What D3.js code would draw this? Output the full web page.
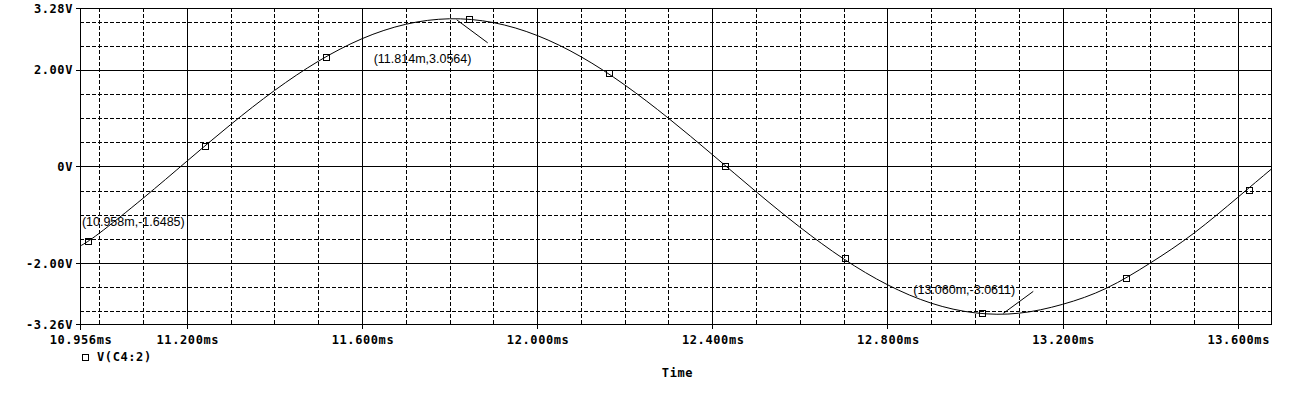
<!DOCTYPE html>
<html>
<head>
<meta charset="utf-8">
<script src="https://cdn.jsdelivr.net/npm/d3@7"></script>
<style>
  body { margin: 0; background: #fff; }
  svg { display: block; }
  .tick-label { font-family: "DejaVu Sans Mono", monospace; font-weight: bold; font-size: 12px; letter-spacing: 0.6px; fill: #000; }
  .note { font-family: "Liberation Sans", Arial, sans-serif; font-size: 12.5px; fill: #000; }
</style>
</head>
<body>
<svg id="vis"></svg>
<script>
// V(C4:2) trace (time in ms, volts)
const timeMs = [10.956, 11.0, 11.1, 11.2, 11.3, 11.4, 11.5, 11.6, 11.7, 11.8, 11.9, 12.0, 12.1, 12.2,
                12.3, 12.4, 12.5, 12.6, 12.7, 12.8, 12.9, 13.0, 13.1, 13.2, 13.3, 13.4, 13.5, 13.6, 13.676]
const volts = [-1.649, -1.382, -0.658, 0.108, 0.867, 1.571, 2.176, 2.644, 2.943, 3.057, 2.978, 2.711, 2.272, 1.688,
               0.998, 0.247, -0.521, -1.255, -1.912, -2.447, -2.829, -3.029, -3.037, -2.853, -2.52, -2.0, -1.38, -0.64, -0.06]

// symbol markers drawn on the trace
const markerTime = [10.974, 11.2415, 11.518, 11.8445, 12.163, 12.429, 12.702, 13.017, 13.345, 13.625]
const markerVolts = [-1.542, 0.427, 2.266, 3.052, 1.93, 0.01, -1.90, -3.038, -2.308, -0.48]

// cursor labels
const noteTime = [10.958, 11.814, 13.060]
const noteVolts = [-1.6485, 3.0564, -3.0611]
const noteText = ["(10.958m,-1.6485)", "(11.814m,3.0564)", "(13.060m,-3.0611)"]

// axes
const xTickValues = [10.956, 11.2, 11.6, 12.0, 12.4, 12.8, 13.2, 13.6]
const xTickLabels = ["10.956ms", "11.200ms", "11.600ms", "12.000ms", "12.400ms", "12.800ms", "13.200ms", "13.600ms"]
const yTickValues = [3.28, 2, 0, -2, -3.26]
const yTickLabels = ["3.28V", "2.00V", "0V", "-2.00V", "-3.26V"]
const yMinor = [3.0, 2.5, 1.5, 1.0, 0.5, -0.5, -1.0, -1.5, -2.5, -3.0]
const seriesName = "V(C4:2)"
const xTitle = "Time"

const width = 1301, height = 399
const margin = { top: 8, right: 30, bottom: 75, left: 80 }

const svg = d3.select("#vis").attr("width", width).attr("height", height)

const x = d3.scaleLinear().domain([10.956, 13.676]).range([margin.left, width - margin.right])
const y = d3.scaleLinear().domain([-3.26, 3.28]).range([height - margin.bottom, margin.top])

const [x0, x1] = x.range()
const [yb, yt] = y.range()

const grid = svg.append("g").attr("shape-rendering", "crispEdges").attr("stroke", "#000").attr("stroke-width", 1)

// dashed minor grid, every 0.1ms / 0.5V
const xMinor = d3.range(110, 137).map(d => d / 10).filter(d => Math.round(d * 10) % 4 !== 0)
grid.selectAll(".vminor").data(xMinor).join("line")
    .attr("x1", d => Math.round(x(d)) + 0.5).attr("x2", d => Math.round(x(d)) + 0.5)
    .attr("y1", yt).attr("y2", yb)
    .attr("stroke-dasharray", "4,2")
grid.selectAll(".hminor").data(yMinor).join("line")
    .attr("x1", x0).attr("x2", x1)
    .attr("y1", d => Math.round(y(d)) + 0.5).attr("y2", d => Math.round(y(d)) + 0.5)
    .attr("stroke-dasharray", "4,2")

// small inward ticks on the time axis
grid.selectAll(".xminortick").data(xMinor).join("line")
    .attr("x1", d => Math.round(x(d)) + 0.5).attr("x2", d => Math.round(x(d)) + 0.5)
    .attr("y1", yb - 3).attr("y2", yb)

// solid major grid
grid.selectAll(".vmajor").data(xTickValues.slice(1)).join("line")
    .attr("x1", d => Math.round(x(d)) + 0.5).attr("x2", d => Math.round(x(d)) + 0.5)
    .attr("y1", yt).attr("y2", yb + 5)
grid.selectAll(".hmajor").data([2, 0, -2]).join("line")
    .attr("x1", x0 - 4).attr("x2", x1)
    .attr("y1", d => Math.round(y(d)) + 0.5).attr("y2", d => Math.round(y(d)) + 0.5)

// frame
grid.append("line").attr("x1", x0 - 4).attr("x2", x1 + 0.5).attr("y1", yt + 0.5).attr("y2", yt + 0.5)
grid.append("line").attr("x1", x0 - 4).attr("x2", x1 + 0.5).attr("y1", yb + 0.5).attr("y2", yb + 0.5)
grid.append("line").attr("x1", x0 + 0.5).attr("x2", x0 + 0.5).attr("y1", yt).attr("y2", yb + 6)
grid.append("line").attr("x1", x1 + 0.5).attr("x2", x1 + 0.5).attr("y1", yt).attr("y2", yb + 1)

// tick labels
svg.selectAll(".ylab").data(yTickValues).join("text")
    .attr("class", "tick-label")
    .attr("x", x0 - 7).attr("y", d => y(d) + 4.5)
    .attr("text-anchor", "end")
    .text((d, i) => yTickLabels[i])

svg.selectAll(".xlab").data(xTickValues).join("text")
    .attr("class", "tick-label")
    .attr("x", d => x(d) + 1).attr("y", yb + 19.5)
    .attr("text-anchor", "middle")
    .text((d, i) => xTickLabels[i])

// trace
const line = d3.line()
    .x(d => x(d[0]))
    .y(d => y(d[1]))
    .curve(d3.curveNatural)

svg.append("path")
    .datum(timeMs.map((t, i) => [t, volts[i]]))
    .attr("d", line)
    .attr("fill", "none")
    .attr("stroke", "#000")
    .attr("stroke-width", 1)

svg.selectAll(".mark").data(markerTime).join("rect")
    .attr("x", d => Math.round(x(d)) - 3 + 0.5)
    .attr("y", (d, i) => Math.round(y(markerVolts[i])) - 3 + 0.5)
    .attr("width", 6).attr("height", 6)
    .attr("fill", "none").attr("stroke", "#000")
    .attr("shape-rendering", "crispEdges")

// cursor labels, offsets relative to the cursor point
const noteLayout = [
    { dx: 1, dy: -20.5, leader: null },
    { dx: -82, dy: 44, leader: [1, 1, 32, 24] },
    { dx: -88, dy: -20, leader: [2, -1, 32, -23] }
]
noteText.forEach((txt, i) => {
    const px = x(noteTime[i]), py = y(noteVolts[i])
    const lay = noteLayout[i]
    svg.append("text").attr("class", "note")
        .attr("x", px + lay.dx).attr("y", py + lay.dy)
        .text(txt)
    if (lay.leader) {
        svg.append("line")
            .attr("x1", px + lay.leader[0]).attr("y1", py + lay.leader[1])
            .attr("x2", px + lay.leader[2]).attr("y2", py + lay.leader[3])
            .attr("stroke", "#000").attr("stroke-width", 1)
    }
})

// legend
svg.append("rect")
    .attr("x", x0 + 2.5).attr("y", 354.5).attr("width", 6).attr("height", 6)
    .attr("fill", "none").attr("stroke", "#000").attr("shape-rendering", "crispEdges")
svg.append("text").attr("class", "tick-label")
    .attr("x", x0 + 17).attr("y", 360.5)
    .text(seriesName)

svg.append("text").attr("class", "tick-label")
    .attr("x", (x0 + x1) / 2 + 2).attr("y", 377)
    .attr("text-anchor", "middle")
    .text(xTitle)
</script>
</body>
</html>
